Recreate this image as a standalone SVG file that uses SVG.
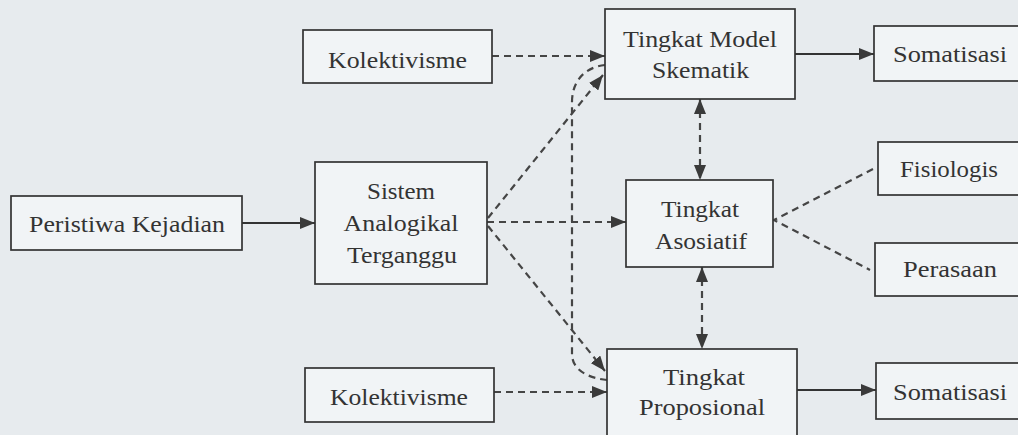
<svg xmlns="http://www.w3.org/2000/svg" width="1018" height="435" viewBox="0 0 1018 435">
  <style>
    .box { fill: #f1f4f6; stroke: #333333; stroke-width: 1.7; }
    .lbl { font-family: "Liberation Serif", "DejaVu Serif", serif; font-size: 24px; fill: #333333; text-anchor: middle; }
    .solid { fill: none; stroke: #333333; stroke-width: 1.9; }
    .dash { fill: none; stroke: #454545; stroke-width: 2.2; stroke-dasharray: 7 5; }
  </style>
  <defs>
    <marker id="arr" viewBox="0 0 15 12" refX="15" refY="6" markerWidth="15" markerHeight="12" markerUnits="userSpaceOnUse" orient="auto-start-reverse">
      <path d="M0,0 L15,6 L0,12 Z" fill="#3a3a3a"/>
    </marker>
  </defs>

  <rect x="0" y="0" width="1018" height="435" fill="#e7ebee"/>

  <g id="connectors">
    <!-- solid -->
    <path class="solid" d="M242,223 H315" marker-end="url(#arr)"/>
    <path class="solid" d="M795,54 H874" marker-end="url(#arr)"/>
    <path class="solid" d="M797,390 H876" marker-end="url(#arr)"/>
    <!-- dashed from Kolektivisme -->
    <path class="dash" d="M492,56 H605" marker-end="url(#arr)"/>
    <path class="dash" d="M494,392 H607" marker-end="url(#arr)"/>
    <!-- from Sistem Analogikal -->
    <path class="dash" d="M488,218 L603,75" marker-end="url(#arr)"/>
    <path class="dash" d="M487,222 H626" marker-end="url(#arr)"/>
    <path class="dash" d="M488,226 L605,371" marker-end="url(#arr)"/>
    <!-- curved link between Skematik and Proposional -->
    <path class="dash" d="M605,65 C586,67 572,80 572,102 V354 C572,370 588,378 607,380"/>
    <!-- bidirectional verticals -->
    <path class="dash" d="M700,99 V180" marker-start="url(#arr)" marker-end="url(#arr)"/>
    <path class="dash" d="M702,267 V349" marker-start="url(#arr)" marker-end="url(#arr)"/>
    <!-- Fisiologis / Perasaan to Asosiatif -->
    <path class="dash" d="M873,169 L774,220 L870,270"/>
  </g>

  <g id="peristiwa">
    <rect class="box" x="11" y="196" width="231" height="54"/>
    <text class="lbl" x="127" y="232" textLength="196" lengthAdjust="spacingAndGlyphs">Peristiwa Kejadian</text>
  </g>

  <g id="kolektivisme-atas">
    <rect class="box" x="303" y="30" width="189" height="53"/>
    <text class="lbl" x="397.5" y="68" textLength="139" lengthAdjust="spacingAndGlyphs">Kolektivisme</text>
  </g>

  <g id="sistem">
    <rect class="box" x="315" y="162" width="172" height="122"/>
    <text class="lbl" x="401" y="199" textLength="68" lengthAdjust="spacingAndGlyphs">Sistem</text>
    <text class="lbl" x="401" y="231" textLength="115" lengthAdjust="spacingAndGlyphs">Analogikal</text>
    <text class="lbl" x="402" y="263" textLength="110" lengthAdjust="spacingAndGlyphs">Terganggu</text>
  </g>

  <g id="kolektivisme-bawah">
    <rect class="box" x="305" y="368" width="189" height="54"/>
    <text class="lbl" x="399" y="405" textLength="138" lengthAdjust="spacingAndGlyphs">Kolektivisme</text>
  </g>

  <g id="skematik">
    <rect class="box" x="605" y="9" width="190" height="90"/>
    <text class="lbl" x="700" y="47" textLength="154" lengthAdjust="spacingAndGlyphs">Tingkat Model</text>
    <text class="lbl" x="700.5" y="78" textLength="97" lengthAdjust="spacingAndGlyphs">Skematik</text>
  </g>

  <g id="asosiatif">
    <rect class="box" x="626" y="180" width="147" height="87"/>
    <text class="lbl" x="700" y="217" textLength="78" lengthAdjust="spacingAndGlyphs">Tingkat</text>
    <text class="lbl" x="701" y="249" textLength="92" lengthAdjust="spacingAndGlyphs">Asosiatif</text>
  </g>

  <g id="proposional">
    <rect class="box" x="607" y="349" width="190" height="100"/>
    <text class="lbl" x="704" y="385" textLength="82" lengthAdjust="spacingAndGlyphs">Tingkat</text>
    <text class="lbl" x="702" y="415" textLength="126" lengthAdjust="spacingAndGlyphs">Proposional</text>
  </g>

  <g id="somatisasi-atas">
    <rect class="box" x="874" y="26" width="160" height="55"/>
    <text class="lbl" x="950" y="62" textLength="114" lengthAdjust="spacingAndGlyphs">Somatisasi</text>
  </g>

  <g id="fisiologis">
    <rect class="box" x="878" y="142" width="160" height="53"/>
    <text class="lbl" x="949" y="177" textLength="98" lengthAdjust="spacingAndGlyphs">Fisiologis</text>
  </g>

  <g id="perasaan">
    <rect class="box" x="875" y="243" width="160" height="53"/>
    <text class="lbl" x="950" y="277" textLength="94" lengthAdjust="spacingAndGlyphs">Perasaan</text>
  </g>

  <g id="somatisasi-bawah">
    <rect class="box" x="876" y="363" width="160" height="56"/>
    <text class="lbl" x="950" y="400" textLength="114" lengthAdjust="spacingAndGlyphs">Somatisasi</text>
  </g>
</svg>
